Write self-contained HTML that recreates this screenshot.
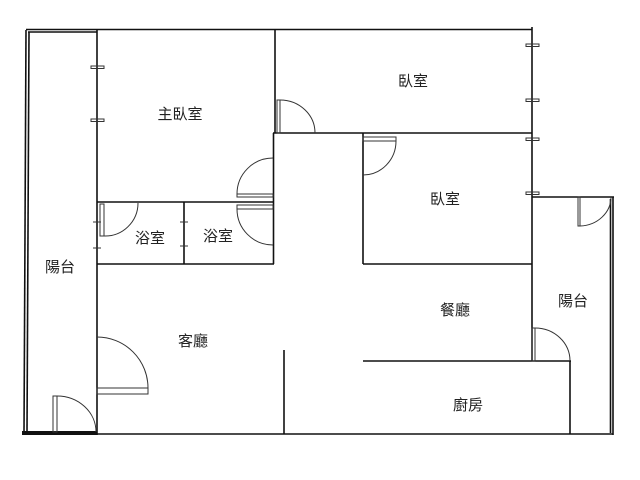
<!DOCTYPE html>
<html><head><meta charset="utf-8"><style>
html,body{margin:0;padding:0;background:#fff;}
svg{display:block}
text{font-family:"Liberation Sans","Noto Sans CJK TC",sans-serif;font-size:15px;fill:#222;text-anchor:middle;dominant-baseline:middle}
</style></head><body>
<svg width="640" height="480" viewBox="0 0 640 480">
<g fill="none" stroke="#111" stroke-width="1.6">
<line x1="26" y1="29.5" x2="532" y2="29.5"/>
<line x1="28" y1="32" x2="97" y2="32"/>
<line x1="26" y1="30" x2="24" y2="434"/>
<line x1="29" y1="32" x2="27" y2="432"/>
<line x1="97" y1="30" x2="97" y2="435"/>
<rect x="22" y="431" width="75" height="4" fill="#111" stroke="none"/>
<line x1="97" y1="434" x2="613" y2="434"/>
<line x1="275" y1="29" x2="275" y2="133"/>
<line x1="273.5" y1="133" x2="273.5" y2="264"/>
<line x1="273" y1="133" x2="532" y2="133"/>
<line x1="97" y1="202" x2="274" y2="202"/>
<line x1="97" y1="264" x2="274" y2="264"/>
<line x1="184" y1="202" x2="184" y2="264"/>
<line x1="363" y1="133" x2="363" y2="264"/>
<line x1="363" y1="264" x2="532" y2="264"/>
<line x1="532" y1="27" x2="532" y2="361"/>
<line x1="532" y1="197" x2="614" y2="197"/>
<line x1="613" y1="197" x2="613" y2="435"/>
<line x1="610.5" y1="199" x2="610.5" y2="433"/>
<line x1="363" y1="361" x2="571" y2="361"/>
<line x1="570" y1="361" x2="570" y2="434"/>
<line x1="284" y1="350" x2="284" y2="434"/>
</g>
<g fill="none" stroke="#333" stroke-width="1">
<rect x="91" y="66" width="13" height="2.5"/>
<rect x="91" y="119" width="13" height="2.5"/>
<line x1="93" y1="222" x2="101" y2="222"/><line x1="93" y1="248" x2="101" y2="248"/>
<line x1="180" y1="222" x2="188" y2="222"/><line x1="180" y1="246" x2="188" y2="246"/>
<rect x="526" y="44" width="13" height="2.5"/>
<rect x="526" y="99" width="13" height="2.5"/>
<rect x="526" y="138" width="13" height="2.5"/>
<rect x="526" y="192" width="13" height="2.5"/>
<rect x="277" y="100" width="3" height="33"/>
<path d="M280 100 A35 33 0 0 1 315 133"/>
<rect x="237" y="194" width="36" height="3"/>
<path d="M273 158 A36 36 0 0 0 237 194"/>
<rect x="100" y="204" width="4" height="32"/>
<path d="M138 203 A33 33 0 0 1 104 236"/>
<rect x="237" y="205" width="36" height="4"/>
<path d="M237 209 A36 36 0 0 0 273 245"/>
<rect x="363" y="137" width="33" height="4"/>
<path d="M396 141 A33 34 0 0 1 363 175"/>
<rect x="578" y="197" width="2" height="29"/>
<path d="M611 197 A32 29 0 0 1 580 226"/>
<rect x="532" y="328" width="3" height="33"/>
<path d="M535 328 A35 33 0 0 1 570 361"/>
<rect x="97" y="388" width="51" height="6"/>
<path d="M97 337 A51 51 0 0 1 148 388"/>
<rect x="53" y="396" width="4" height="36"/>
<path d="M57 396 A39 36 0 0 1 96 432"/>
</g>
<text x="180" y="115">主臥室</text>
<text x="150" y="239">浴室</text>
<text x="218" y="237">浴室</text>
<text x="60" y="268">陽台</text>
<text x="193" y="342">客廳</text>
<text x="413" y="82">臥室</text>
<text x="445" y="200">臥室</text>
<text x="455" y="311">餐廳</text>
<text x="573" y="302">陽台</text>
<text x="468" y="406">廚房</text>
</svg>
</body></html>
